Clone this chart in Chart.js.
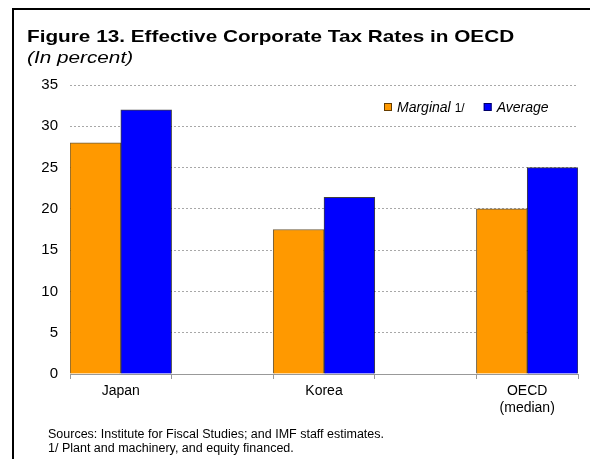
<!DOCTYPE html>
<html>
<head>
<meta charset="utf-8">
<title>Figure 13. Effective Corporate Tax Rates in OECD</title>
<script src="https://cdn.jsdelivr.net/npm/chart.js@4/dist/chart.umd.min.js"></script>
<style>
	html, body { margin: 0; padding: 0; background: #fff; }
	#chart-wrap { position: relative; width: 590px; height: 459px; }
</style>
</head>
<body>
<div id="chart-wrap"><canvas id="tax-chart"></canvas></div>
<script>
// Chart data.
var categories = ['Japan', 'Korea', ['OECD', '(median)']];
var marginal   = [28, 17.5, 20];
var average    = [32, 21.4, 25];
var yTicks     = { min: 0, max: 35, step: 5 };

var titleText    = 'Figure 13. Effective Corporate Tax Rates in OECD';
var subtitleText = '(In percent)';
var footnotes    = [
	'Sources: Institute for Fiscal Studies; and IMF staff estimates.',
	'1/ Plant and machinery, and equity financed.'
];

(function() {
	'use strict';

	var FONT = '"Liberation Sans", Arial, Helvetica, sans-serif';

	/**
	 * The original chart leaves an empty slot between each group,
	 * so pad the category axis with blank labels / null values.
	 */
	function spread(list, blank) {
		var out = [];
		list.forEach(function(v, i) {
			if (i > 0) {
				out.push(blank);
			}
			out.push(v);
		});
		return out;
	}

	// Frame, title block, legend and footnotes drawn around the plot.
	var decorations = {
		id: 'decorations',
		beforeDraw: function(chart) {
			var ctx = chart.ctx;
			ctx.save();
			ctx.fillStyle = '#fff';
			ctx.fillRect(0, 0, chart.width, chart.height);
			ctx.fillStyle = '#000';
			ctx.fillRect(12, 8, 2, chart.height - 8);
			ctx.fillRect(12, 8, chart.width - 12, 2);
			ctx.restore();
		},
		afterDraw: function(chart) {
			var ctx = chart.ctx;
			ctx.save();
			ctx.fillStyle = '#000';
			ctx.textBaseline = 'alphabetic';
			ctx.textAlign = 'left';

			// Title text in the original is a little wider than plain Arial.
			ctx.save();
			ctx.translate(27, 42);
			ctx.scale(1.22, 1);
			ctx.font = 'bold 17px ' + FONT;
			ctx.fillText(titleText, 0, 0);
			ctx.restore();

			ctx.save();
			ctx.translate(27, 63);
			ctx.scale(1.22, 1);
			ctx.font = 'italic 17px ' + FONT;
			ctx.fillText(subtitleText, 0, 0);
			ctx.restore();

			// Legend (top right, inside the plot).
			var x = 384;
			chart.data.datasets.forEach(function(ds) {
				ctx.fillStyle = ds.backgroundColor;
				ctx.fillRect(x, 103, 8, 8);
				ctx.strokeStyle = 'rgba(0,0,0,0.6)';
				ctx.lineWidth = 1;
				ctx.strokeRect(x + 0.5, 103.5, 7, 7);
				ctx.fillStyle = '#000';
				ctx.font = 'italic 14px ' + FONT;
				ctx.fillText(ds.label, x + 13, 112);
				var w = ctx.measureText(ds.label).width;
				if (ds.note) {
					ctx.font = '12px ' + FONT;
					ctx.fillText(ds.note, x + 13 + w + 4, 112);
					w += 4 + ctx.measureText(ds.note).width;
				}
				x += 13 + w + 19;
			});

			// Footnotes.
			ctx.font = '12.5px ' + FONT;
			ctx.fillStyle = '#000';
			ctx.fillText(footnotes[0], 48, 438);
			ctx.fillText(footnotes[1], 48, 452);
			ctx.restore();
		}
	};

	var ctx = document.getElementById('tax-chart').getContext('2d');

	new Chart(ctx, {
		type: 'bar',
		data: {
			labels: spread(categories, ''),
			datasets: [
				{
					label: 'Marginal',
					note: '1/',
					data: spread(marginal, null),
					backgroundColor: '#ff9900',
					borderColor: 'rgba(60,40,0,0.75)',
					borderWidth: 1,
					categoryPercentage: 1,
					barPercentage: 1
				},
				{
					label: 'Average',
					data: spread(average, null),
					backgroundColor: '#0000ff',
					borderColor: 'rgba(0,0,0,0.75)',
					borderWidth: 1,
					categoryPercentage: 1,
					barPercentage: 1
				}
			]
		},
		options: {
			responsive: true,
			maintainAspectRatio: false,
			animation: false,
			layout: {
				padding: { top: 85, right: 12, bottom: 0, left: 0 }
			},
			plugins: {
				legend: { display: false },
				title: { display: false },
				tooltip: { enabled: false }
			},
			scales: {
				x: {
					offset: true,
					grid: {
						offset: true,
						drawOnChartArea: false,
						drawTicks: true,
						tickLength: 5,
						color: '#999'
					},
					border: { display: true, color: '#999', width: 1 },
					ticks: {
						autoSkip: false,
						maxRotation: 0,
						padding: 4,
						color: '#000',
						font: { family: FONT, size: 14 }
					},
					afterFit: function(scale) {
						scale.height = 85;
					}
				},
				y: {
					min: yTicks.min,
					max: yTicks.max,
					grid: {
						drawTicks: false,
						color: '#a8a8a8',
						lineWidth: 1
					},
					border: { display: false, dash: [2, 2] },
					ticks: {
						stepSize: yTicks.step,
						padding: 12,
						color: '#000',
						font: { family: FONT, size: 15 }
					},
					afterFit: function(scale) {
						scale.width = 70;
					}
				}
			}
		},
		plugins: [decorations]
	});
})();
</script>
</body>
</html>
